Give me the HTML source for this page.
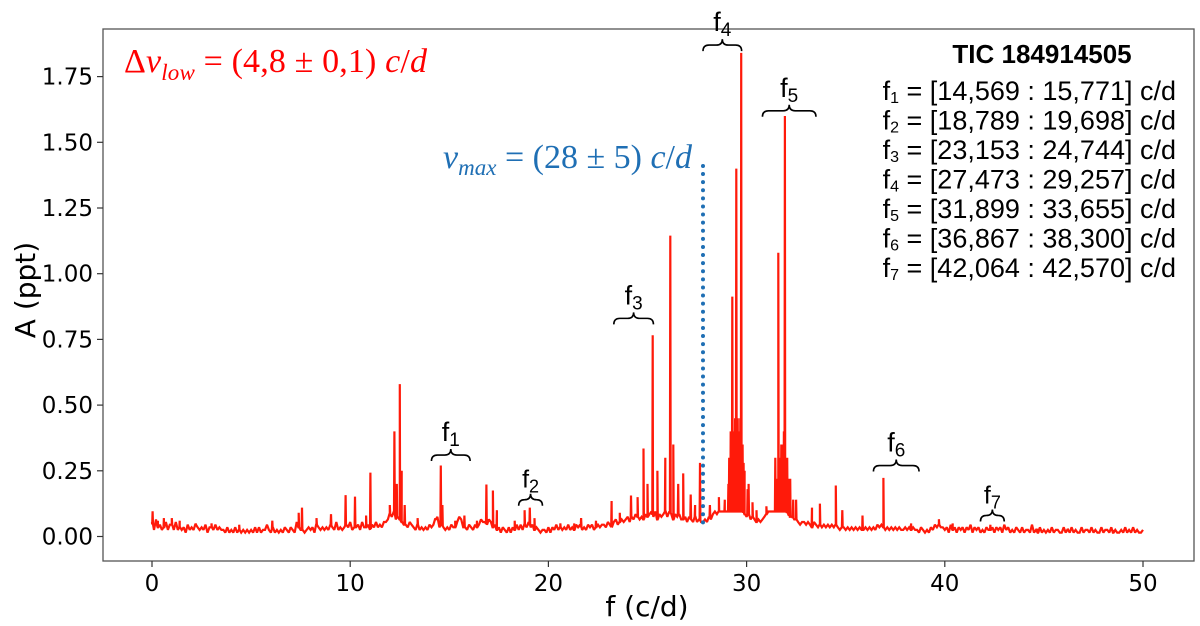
<!DOCTYPE html>
<html><head><meta charset="utf-8"><style>
html,body{margin:0;padding:0;background:#fff;}
svg{display:block;font-family:"DejaVu Sans","Liberation Sans",sans-serif;}
</style></head><body>
<svg id="chart" width="1200" height="626" viewBox="0 0 1200 626">
<rect x="0" y="0" width="1200" height="626" fill="#fff"/>
<g id="plot"></g>
<g id="axes"></g>
<g id="annot"></g>
<text x="124" y="72" fill="#ff0000" font-family="Liberation Serif, serif" font-size="34" textLength="303">Δ<tspan font-style="italic">ν</tspan><tspan font-style="italic" font-size="23" dy="8">low</tspan><tspan dy="-8"> = (4,8 ± 0,1) </tspan><tspan font-style="italic">c</tspan>/<tspan font-style="italic">d</tspan></text>
<text x="692" y="168" text-anchor="end" fill="#1f6fb4" font-family="Liberation Serif, serif" font-size="34"><tspan font-style="italic">ν</tspan><tspan font-style="italic" font-size="23" dy="7">max</tspan><tspan dy="-7"> = (28 ± 5) </tspan><tspan font-style="italic">c</tspan>/<tspan font-style="italic">d</tspan></text>
<g font-family="Liberation Sans, sans-serif" font-size="27" fill="#000">
<text x="1042" y="63" text-anchor="middle" font-weight="bold" font-size="26">TIC 184914505</text>
<text x="1176" y="100" text-anchor="end">f<tspan font-size="16" dy="3">1</tspan><tspan dy="-3"> = [14,569 : 15,771] c/d</tspan></text>
<text x="1176" y="129.5" text-anchor="end">f<tspan font-size="16" dy="3">2</tspan><tspan dy="-3"> = [18,789 : 19,698] c/d</tspan></text>
<text x="1176" y="159" text-anchor="end">f<tspan font-size="16" dy="3">3</tspan><tspan dy="-3"> = [23,153 : 24,744] c/d</tspan></text>
<text x="1176" y="188.5" text-anchor="end">f<tspan font-size="16" dy="3">4</tspan><tspan dy="-3"> = [27,473 : 29,257] c/d</tspan></text>
<text x="1176" y="218" text-anchor="end">f<tspan font-size="16" dy="3">5</tspan><tspan dy="-3"> = [31,899 : 33,655] c/d</tspan></text>
<text x="1176" y="247.5" text-anchor="end">f<tspan font-size="16" dy="3">6</tspan><tspan dy="-3"> = [36,867 : 38,300] c/d</tspan></text>
<text x="1176" y="277" text-anchor="end">f<tspan font-size="16" dy="3">7</tspan><tspan dy="-3"> = [42,064 : 42,570] c/d</tspan></text>
</g>
<text x="647" y="616" text-anchor="middle" font-size="28">f (c/d)</text>
<text transform="translate(35,290) rotate(-90)" text-anchor="middle" font-size="28">A (ppt)</text>
</svg>
<script>
// background noise amplitude every 0.1 c/d (digit = amplitude in 0.01 ppt), 0..50
const noiseDigits = "5263423524425232314232432324133242322131213121212121313122421312121321321532212323143232324325232343523342533424353435568796765443543242323243467343232433576332432434655465342313213132424243534232122131324232324232434232434234344354356456567576876768789796878979868786675765756556576898999999999999987867656567899999999998776654554543543434343434323323232323223232324343232323232232323221321213243433231423132313241323121322313231423121321312214121312121312211312131211312213121131221312112131213121121312113121211";
const noiseStep = 0.1;
const peakFreqs = [0.03,0.3,0.6,1.0,1.4,2.2,3.0,4.4,6.07,7.4,7.57,8.3,9.03,9.77,10.24,10.8,11.02,12.0,12.23,12.35,12.5,12.6,12.75,13.4,14.3,14.57,14.65,15.3,15.76,16.4,16.87,17.2,17.4,18.3,18.8,19.06,19.3,20.6,21.3,21.65,22.4,23.19,23.6,24.17,24.5,24.8,25.0,25.26,25.5,25.9,26.15,26.3,26.55,26.8,27.18,27.4,27.65,28.15,28.6,29.08,29.2,29.28,29.35,29.42,29.48,29.55,29.62,29.68,29.73,29.8,29.9,30.1,30.5,31.0,31.45,31.6,31.7,31.8,31.88,31.93,32.05,32.2,32.5,33.3,33.7,34.5,34.83,35.85,36.9,38.3,39.7,40.4,42.3,44.7,46.2,48.5];
const peakAmps = [0.096,0.06,0.07,0.07,0.06,0.05,0.05,0.045,0.06,0.09,0.11,0.07,0.085,0.157,0.152,0.08,0.243,0.12,0.40,0.2,0.58,0.25,0.12,0.07,0.07,0.27,0.12,0.06,0.08,0.06,0.198,0.175,0.1,0.06,0.1,0.11,0.07,0.05,0.05,0.07,0.06,0.135,0.09,0.156,0.15,0.335,0.2,0.766,0.25,0.3,1.145,0.35,0.2,0.24,0.16,0.12,0.28,0.12,0.15,0.2,0.4,0.913,0.4,0.45,1.40,0.45,0.4,0.45,1.84,0.35,0.25,0.2,0.1,0.115,0.3,1.08,0.3,0.35,0.4,1.60,0.3,0.22,0.14,0.11,0.125,0.194,0.1,0.08,0.223,0.05,0.066,0.05,0.045,0.03,0.03,0.025];
const clusterFreqs = [28.9,29.12,29.32,29.52,29.65,29.85,30.05,30.3,31.5,31.75,31.98,32.15,32.35];
const clusterAmps = [0.14,0.3,0.35,0.4,0.35,0.28,0.18,0.13,0.22,0.35,0.3,0.22,0.14];
const xTicks = [0,10,20,30,40,50];
const yTicks = [0,0.25,0.5,0.75,1.0,1.25,1.5,1.75];
const yTickLabels = ["0.00","0.25","0.50","0.75","1.00","1.25","1.50","1.75"];
const numaxValue = 27.8;
const numaxTop = 1.41;
const groupNames = ["1","2","3","4","5","6","7"];
const groupStart = [14.1,18.5,23.3,27.8,30.8,36.4,41.8];
const groupEnd = [16.05,19.7,25.3,29.75,33.5,38.7,43.0];
const groupHeight = [0.31,0.14,0.83,1.87,1.62,0.27,0.08];

const noiseLevels = noiseDigits.split('').map(c => Number(c) * 0.01 + 0.005);
const NS = "http://www.w3.org/2000/svg";
const X0 = 152, XS = 19.82, Y0 = 536.5, YS = 262.8;
const L = 103, R = 1194, T = 29, B = 561;
function sx(f){ return X0 + f * XS; }
function sy(a){ return Y0 - a * YS; }
function mk(tag, attrs, parent){ const e = document.createElementNS(NS, tag); for (const k in attrs) e.setAttribute(k, attrs[k]); parent.appendChild(e); return e; }
function bgAt(f){ const i = Math.max(0, Math.min(Math.floor(f / noiseStep), noiseLevels.length - 2)); const t = (f - i * noiseStep) / noiseStep; return noiseLevels[i] * (1 - t) + noiseLevels[i + 1] * t; }

const plot = document.getElementById('plot');
const axes = document.getElementById('axes');
const annot = document.getElementById('annot');

let pts = [];
noiseLevels.forEach((v, i) => pts.push([i * noiseStep, v]));
function addPeak(f, a){ const b = bgAt(f); pts.push([f - 0.02, b]); pts.push([f, a]); pts.push([f + 0.02, b]); }
peakFreqs.forEach((f, i) => addPeak(f, peakAmps[i]));
clusterFreqs.forEach((f, i) => addPeak(f, clusterAmps[i]));
pts.sort((a, b) => a[0] - b[0]);
pts = pts.filter(p => p[0] >= 0 && p[0] <= 50);
const d = pts.map((p, i) => (i ? 'L' : 'M') + sx(p[0]).toFixed(1) + ' ' + sy(p[1]).toFixed(1)).join(' ');
const line = mk('path', {d: d, fill: 'none', stroke: '#ff1a0a', 'stroke-width': 2.2, 'stroke-linejoin': 'miter', 'stroke-miterlimit': 2}, plot);



const nm = mk('line', {x1: sx(numaxValue), x2: sx(numaxValue), y1: sy(numaxTop), y2: sy(0.03), stroke: '#1f6fb4', 'stroke-width': 4, 'stroke-dasharray': '0 8.1', 'stroke-linecap': 'round'}, plot);



const fr = mk('rect', {x: L, y: T, width: R - L, height: B - T, fill: 'none', stroke: '#555', 'stroke-width': 1.3}, axes);


xTicks.forEach(v => {
  const t = mk('line', {x1: sx(v), x2: sx(v), y1: B, y2: B + 6, stroke: '#333', 'stroke-width': 1.2}, axes);
  
  
  const tx = mk('text', {x: sx(v), y: B + 30, 'text-anchor': 'middle', 'font-size': 23, fill: '#000'}, axes);
  tx.textContent = String(v);
  
  
});
yTicks.forEach((v, i) => {
  const t = mk('line', {x1: L - 6, x2: L, y1: sy(v), y2: sy(v), stroke: '#333', 'stroke-width': 1.2}, axes);
  
  
  const tx = mk('text', {x: L - 10, y: sy(v) + 8, 'text-anchor': 'end', 'font-size': 23, fill: '#000'}, axes);
  tx.textContent = yTickLabels[i];
  
  
});

groupNames.forEach((n, i) => {
  const x1 = sx(groupStart[i]), x2 = sx(groupEnd[i]), y = sy(groupHeight[i]), m = (x1 + x2) / 2;
  const h = 6;
  const p = `M${x1} ${y+h} Q${x1} ${y} ${x1+h} ${y} L${m-h} ${y} Q${m} ${y} ${m} ${y-h} Q${m} ${y} ${m+h} ${y} L${x2-h} ${y} Q${x2} ${y} ${x2} ${y+h}`;
  const br = mk('path', {d: p, fill: 'none', stroke: '#000', 'stroke-width': 1.6}, annot);
  
  
  const big = (x2 - x1) > 30;
  const tx = mk('text', {x: m, y: y - (big ? 14 : 12), 'text-anchor': 'middle', 'font-size': big ? 27 : 25, 'font-family': 'Liberation Sans, sans-serif', fill: '#000'}, annot);
  
  
  tx.textContent = 'f';
  const sub = mk('tspan', {'font-size': big ? 19 : 18, dy: 5}, tx);
  sub.textContent = n;
});
</script>
</body></html>
